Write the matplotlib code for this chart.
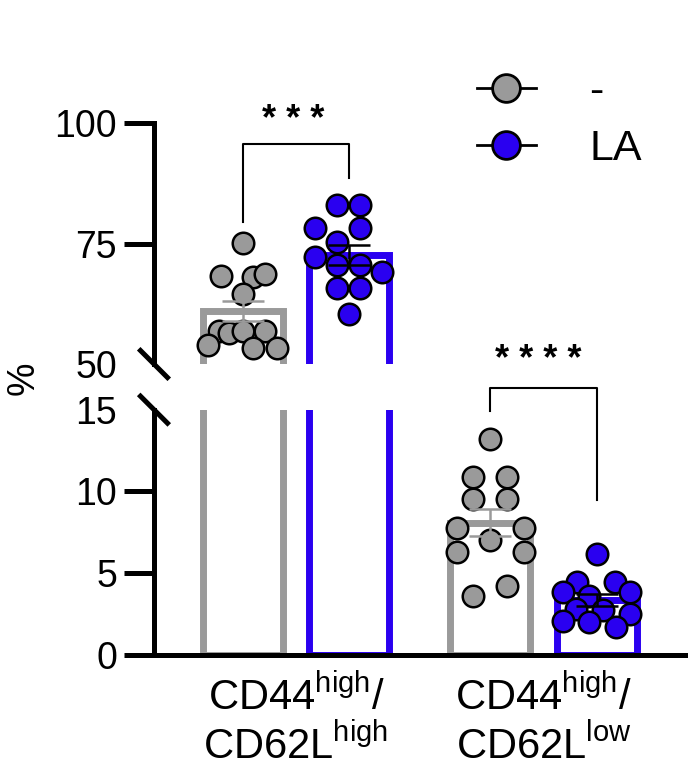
import numpy as np
import matplotlib
matplotlib.use("Agg")
import matplotlib.pyplot as plt
from matplotlib.lines import Line2D

plt.rcParams['font.family'] = ['Liberation Sans', 'DejaVu Sans']
plt.rcParams['mathtext.fontset'] = 'custom'
plt.rcParams['mathtext.rm'] = 'Liberation Sans'
plt.rcParams['mathtext.it'] = 'Liberation Sans'

GRAY = '#9a9a9a'
BLUE = '#2a00f0'

# values (%)
ctrl_high = [75.2, 68.2, 68.0, 68.7, 64.6, 56.9, 56.4, 56.8, 56.8, 54.0, 53.3, 53.4]
la_high = [83.0, 83.0, 78.2, 78.2, 75.4, 72.2, 70.6, 70.6, 69.2, 65.8, 65.8, 60.4]
ctrl_low = [13.21, 10.87, 10.87, 9.51, 9.51, 7.79, 7.79, 7.05, 6.30, 6.30, 3.62, 4.23]
la_low = [6.20, 4.47, 4.47, 3.86, 3.86, 3.60, 2.79, 2.74, 2.50, 2.07, 1.99, 1.73]

# horizontal scatter of the dots inside each column (x units)
ctrl_high_dx = [0, -0.089, 0.041, 0.091, 0, -0.094, -0.053, 0, 0.091, -0.138, 0.041, 0.138]
la_high_dx = [-0.048, 0.046, -0.136, 0.046, -0.048, -0.136, -0.048, 0.046, 0.133, -0.048, 0.046, 0]
ctrl_low_dx = [0, -0.069, 0.067, -0.069, 0.067, -0.135, 0.135, 0, -0.135, 0.135, -0.069, 0.067]
la_low_dx = [0, -0.079, 0.076, -0.137, 0.136, -0.03, -0.083, 0.024, 0.136, -0.137, -0.03, 0.078]

categories = ['CD44$^{\\mathrm{high}}$/\nCD62L$^{\\mathrm{high}}$',
              'CD44$^{\\mathrm{high}}$/\nCD62L$^{\\mathrm{low}}$']
legend_labels = ['-', 'LA']
stars = ['* * *', '* * * *']

groups = np.arange(2)
shift = 0.43
width = 0.323

series = [
    (groups[0], ctrl_high, ctrl_high_dx, GRAY, GRAY),
    (groups[0] + shift, la_high, la_high_dx, BLUE, 'black'),
    (groups[1], ctrl_low, ctrl_low_dx, GRAY, GRAY),
    (groups[1] + shift, la_low, la_low_dx, BLUE, 'black'),
]

fig = plt.figure(figsize=(6.88, 7.79), dpi=100)
ax_top = fig.add_axes([0.2238, 0.5327, 0.773, 0.309])
ax_bot = fig.add_axes([0.2238, 0.1592, 0.773, 0.3149])

for ax in (ax_top, ax_bot):
    for x, vals, dx, col, ecol in series:
        vals = np.array(vals)
        m = vals.mean()
        sem = vals.std(ddof=1) / np.sqrt(len(vals))
        ax.bar(x, m, width=width, fill=False, edgecolor=col, linewidth=5, zorder=2)
        ax.plot(x + np.array(dx), vals, 'o', ms=15.5, mfc=col, mec='black', mew=1.8,
                zorder=3)
        ax.errorbar(x, m, yerr=sem, fmt='none', ecolor=ecol, elinewidth=1.8,
                    capsize=15, capthick=1.8, zorder=4)
    ax.set_xlim(-0.358, 1.79)
    ax.spines[['top', 'right']].set_visible(False)
    ax.spines['left'].set_linewidth(3.6)
    ax.spines['bottom'].set_linewidth(3.6)
    ax.spines['bottom'].set_zorder(6)
    ax.tick_params(axis='y', length=21.6, width=3.6, labelsize=27, pad=5)

ax_top.set_ylim(50, 100)
ax_top.set_yticks([50, 75, 100])
ax_top.spines['bottom'].set_visible(False)
ax_top.set_xticks([])
ax_top.yaxis.get_major_ticks()[0].tick1line.set_visible(False)

ax_bot.set_ylim(0, 15)
ax_bot.set_yticks([0, 5, 10, 15])
ax_bot.yaxis.get_major_ticks()[-1].tick1line.set_visible(False)
ax_bot.set_xticks(groups + shift / 2)
ax_bot.set_xticklabels(categories, fontsize=30, linespacing=1.2)
ax_bot.tick_params(axis='x', length=0, pad=15)

# break marks on the left spine
for ax, y0 in ((ax_top, 0.0), (ax_bot, 1.0)):
    bb = ax.get_position()
    hx = 13.5 / (bb.width * 688)
    hy = 13.5 / (bb.height * 779)
    ax.plot([-hx, hx], [y0 + hy, y0 - hy], color='black', lw=3.6,
            transform=ax.transAxes, clip_on=False, zorder=5)

# significance brackets
xa, xb = series[0][0], series[1][0]
ax_top.plot([xa, xa, xb, xb], [79.6, 95.7, 95.7, 88.6], color='black', lw=1.5)
ax_top.text((xa + xb) / 2 - 0.01, 100.6, stars[0], ha='center', va='center', fontsize=26,
            fontweight='bold', clip_on=False)
xa, xb = series[2][0], series[3][0]
ax_bot.plot([xa, xa, xb, xb], [14.9, 16.34, 16.34, 9.49], color='black', lw=1.5,
            clip_on=False)
ax_bot.text((xa + xb) / 2 - 0.02, 18.0, stars[1], ha='center', va='center', fontsize=26,
            fontweight='bold', clip_on=False)

fig.text(0.034, 1 - 378 / 779, '%', rotation=90, ha='center', va='center', fontsize=27)

handles = [Line2D([], [], color='black', lw=2, marker='o', ms=20, mfc=c, mec='black', mew=2)
           for c in (GRAY, BLUE)]
fig.legend(handles, legend_labels, loc='center left', bbox_to_anchor=(0.6933, 0.8455),
           frameon=False, fontsize=31, borderpad=0, borderaxespad=0, handlelength=1.37,
           handletextpad=1.24, labelspacing=0.39)

fig.savefig('out.png', dpi=100)
